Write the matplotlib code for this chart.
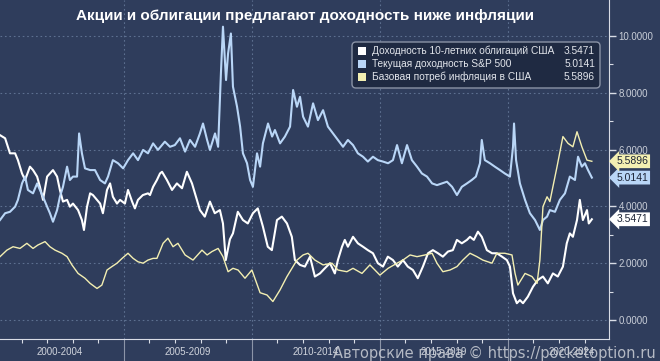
import matplotlib.pyplot as plt
import matplotlib.transforms as mtransforms
from matplotlib.patches import FancyBboxPatch, Rectangle

# Доходность 10-летних облигаций США
t10_years = [2000.16, 2000.36, 2000.55, 2000.75, 2000.86, 2001.02, 2001.14, 2001.33, 2001.45, 2001.61,
             2001.72, 2001.84, 2002.00, 2002.11, 2002.23, 2002.39, 2002.50, 2002.62, 2002.78, 2002.89,
             2003.01, 2003.21, 2003.36, 2003.44, 2003.56, 2003.68, 2003.79, 2003.95, 2004.07, 2004.18,
             2004.34, 2004.46, 2004.57, 2004.73, 2004.85, 2005.04, 2005.16, 2005.32, 2005.43, 2005.55,
             2005.74, 2005.94, 2006.02, 2006.14, 2006.29, 2006.41, 2006.49, 2006.68, 2006.88, 2007.07,
             2007.27, 2007.46, 2007.66, 2007.85, 2007.97, 2008.16, 2008.36, 2008.55, 2008.75, 2008.87,
             2008.98, 2009.14, 2009.26, 2009.45, 2009.65, 2009.84, 2010.04, 2010.23, 2010.43, 2010.62,
             2010.78, 2010.98, 2011.17, 2011.37, 2011.56, 2011.68, 2011.88, 2012.07, 2012.27, 2012.46,
             2012.66, 2012.85, 2013.05, 2013.24, 2013.36, 2013.52, 2013.63, 2013.75, 2013.95, 2014.14,
             2014.34, 2014.53, 2014.73, 2014.92, 2015.12, 2015.31, 2015.51, 2015.70, 2015.90, 2016.09,
             2016.29, 2016.48, 2016.68, 2016.88, 2017.07, 2017.27, 2017.46, 2017.66, 2017.85, 2018.01,
             2018.20, 2018.40, 2018.52, 2018.67, 2018.83, 2018.98, 2019.18, 2019.38, 2019.57, 2019.77,
             2019.96, 2020.08, 2020.20, 2020.35, 2020.47, 2020.59, 2020.78, 2020.98, 2021.17, 2021.37,
             2021.56, 2021.76, 2021.95, 2022.15, 2022.30, 2022.42, 2022.54, 2022.70, 2022.81, 2022.93,
             2023.09, 2023.16, 2023.28]
t10_vals = [6.51, 6.40, 5.87, 5.87, 5.63, 5.16, 4.93, 5.40, 5.28, 5.05,
            4.69, 4.23, 5.05, 5.16, 5.28, 5.05, 4.58, 4.17, 4.23, 3.99,
            4.10, 3.87, 3.52, 3.17, 3.99, 4.46, 4.40, 4.23, 4.10, 3.76,
            4.58, 4.81, 4.34, 4.10, 4.23, 4.10, 4.58, 4.17, 3.93, 4.23,
            4.40, 4.46, 4.40, 4.69, 4.93, 5.16, 5.22, 4.93, 4.58, 4.81,
            4.64, 5.22, 4.81, 4.23, 3.87, 3.64, 4.17, 3.76, 3.87, 3.40,
            2.11, 2.84, 3.05, 3.81, 3.52, 3.40, 3.76, 3.93, 3.29, 2.58,
            2.46, 3.52, 3.64, 3.40, 2.93, 2.11, 1.94, 1.88, 2.23, 1.53,
            1.64, 1.82, 2.00, 1.64, 2.11, 2.58, 2.82, 2.58, 2.93, 2.70,
            2.58, 2.46, 2.35, 2.00, 1.88, 2.23, 2.11, 1.88, 2.11, 1.88,
            1.76, 1.47, 1.88, 2.35, 2.46, 2.35, 2.23, 2.41, 2.46, 2.82,
            2.70, 2.82, 2.93, 2.82, 3.11, 2.93, 2.46, 2.35, 2.35, 2.23,
            2.11, 1.88, 0.94, 0.59, 0.70, 0.59, 0.82, 1.17, 1.41, 1.53,
            1.29, 1.64, 1.53, 1.88, 2.70, 3.05, 2.93, 3.52, 4.23, 3.52,
            3.87, 3.40, 3.5471]

# Текущая доходность S&P 500
spx_years = [2000.16, 2000.36, 2000.55, 2000.75, 2000.86, 2001.02, 2001.14, 2001.25, 2001.45, 2001.61,
             2001.72, 2001.84, 2002.00, 2002.11, 2002.23, 2002.39, 2002.50, 2002.62, 2002.78, 2002.89,
             2003.01, 2003.17, 2003.25, 2003.36, 2003.48, 2003.68, 2003.87, 2004.07, 2004.26, 2004.38,
             2004.57, 2004.77, 2004.97, 2005.16, 2005.36, 2005.55, 2005.75, 2005.94, 2006.14, 2006.33,
             2006.60, 2006.80, 2006.99, 2007.19, 2007.39, 2007.58, 2007.78, 2007.97, 2008.09, 2008.25,
             2008.36, 2008.56, 2008.68, 2008.79, 2008.87, 2008.99, 2009.07, 2009.18, 2009.26, 2009.42,
             2009.54, 2009.65, 2009.81, 2009.93, 2010.04, 2010.20, 2010.32, 2010.43, 2010.63, 2010.79,
             2010.90, 2011.10, 2011.29, 2011.49, 2011.61, 2011.76, 2011.88, 2012.00, 2012.19, 2012.39,
             2012.58, 2012.78, 2012.97, 2013.17, 2013.36, 2013.56, 2013.75, 2013.95, 2014.14, 2014.34,
             2014.53, 2014.73, 2014.92, 2015.12, 2015.32, 2015.51, 2015.67, 2015.86, 2016.06, 2016.25,
             2016.45, 2016.64, 2016.84, 2017.04, 2017.23, 2017.43, 2017.62, 2017.82, 2018.01, 2018.20,
             2018.40, 2018.59, 2018.75, 2018.91, 2018.98, 2019.10, 2019.30, 2019.49, 2019.69, 2019.88,
             2020.08, 2020.20, 2020.24, 2020.32, 2020.47, 2020.67, 2020.86, 2021.06, 2021.25, 2021.37,
             2021.53, 2021.64, 2021.84, 2022.03, 2022.23, 2022.42, 2022.62, 2022.74, 2022.89, 2023.01,
             2023.13, 2023.28]
spx_vals = [3.52, 3.76, 3.81, 3.99, 4.23, 4.81, 5.05, 4.58, 4.46, 4.81,
            4.58, 4.34, 3.99, 3.76, 3.46, 3.87, 4.34, 4.69, 5.40, 4.93,
            5.05, 5.05, 6.57, 5.87, 5.34, 5.28, 5.28, 4.93, 4.81, 5.05,
            5.63, 5.52, 5.34, 5.63, 5.87, 5.63, 5.99, 5.87, 6.22, 5.99,
            6.28, 6.10, 6.16, 6.40, 5.93, 6.34, 6.10, 6.57, 6.92, 6.34,
            5.99, 6.57, 6.10, 8.69, 10.33, 8.45, 9.39, 10.09, 8.22, 7.51,
            6.81, 5.87, 5.52, 4.93, 4.69, 5.87, 5.40, 6.22, 6.92, 6.46,
            6.69, 6.22, 6.46, 6.81, 8.10, 7.51, 7.86, 7.16, 6.81, 7.63,
            7.04, 7.39, 6.81, 6.57, 6.34, 6.10, 6.34, 6.16, 5.87, 5.75,
            5.58, 5.75, 5.63, 5.58, 5.52, 5.63, 6.16, 5.52, 6.16, 5.63,
            5.40, 5.16, 5.05, 4.81, 4.75, 4.81, 4.87, 4.69, 4.40, 4.69,
            4.81, 4.93, 5.05, 5.52, 6.34, 5.63, 5.52, 5.40, 5.28, 5.16,
            5.05, 6.10, 6.92, 5.63, 4.81, 4.23, 3.76, 3.52, 3.17, 3.52,
            3.64, 3.87, 3.81, 4.23, 4.46, 5.05, 4.93, 5.75, 5.40, 5.52,
            5.28, 5.0141]

# Базовая потреб инфляция в США
cpi_years = [2000.16, 2000.43, 2000.67, 2000.94, 2001.21, 2001.45, 2001.64, 2001.92, 2002.11, 2002.31,
             2002.58, 2002.78, 2002.97, 2003.21, 2003.48, 2003.68, 2003.95, 2004.14, 2004.34, 2004.53,
             2004.73, 2004.93, 2005.16, 2005.36, 2005.55, 2005.75, 2005.94, 2006.14, 2006.29, 2006.53,
             2006.72, 2006.92, 2007.11, 2007.39, 2007.70, 2008.05, 2008.25, 2008.44, 2008.68, 2008.87,
             2009.07, 2009.26, 2009.46, 2009.73, 2010.00, 2010.32, 2010.59, 2010.82, 2011.10, 2011.37,
             2011.76, 2012.00, 2012.19, 2012.46, 2012.78, 2013.13, 2013.36, 2013.71, 2013.95, 2014.30,
             2014.61, 2015.00, 2015.32, 2015.67, 2015.90, 2016.18, 2016.45, 2016.76, 2017.04, 2017.23,
             2017.46, 2017.74, 2018.01, 2018.24, 2018.52, 2018.79, 2019.02, 2019.38, 2019.57, 2019.88,
             2020.16, 2020.28, 2020.39, 2020.67, 2020.94, 2021.14, 2021.25, 2021.37, 2021.53, 2021.64,
             2021.92, 2022.15, 2022.35, 2022.54, 2022.70, 2022.89, 2023.09, 2023.28]
cpi_vals = [2.23, 2.46, 2.58, 2.52, 2.70, 2.52, 2.64, 2.76, 2.58, 2.46,
            2.35, 2.23, 1.94, 1.64, 1.47, 1.29, 1.11, 1.23, 1.76, 1.88,
            2.00, 2.17, 2.35, 2.17, 2.05, 2.00, 2.11, 2.17, 2.17, 2.70,
            2.88, 2.58, 2.70, 2.29, 2.11, 2.46, 2.29, 2.41, 2.52, 2.23,
            1.70, 1.82, 1.76, 1.47, 1.76, 0.96, 0.88, 0.65, 1.06, 1.53,
            2.11, 2.29, 2.35, 2.11, 1.94, 2.00, 1.76, 1.70, 1.82, 1.64,
            1.94, 1.58, 1.82, 2.00, 2.11, 2.29, 2.23, 2.29, 2.35, 2.00,
            1.70, 1.76, 1.88, 2.11, 2.35, 2.23, 2.11, 2.00, 2.35, 2.35,
            2.29, 1.64, 1.23, 1.64, 1.53, 1.29, 2.11, 3.99, 4.34, 4.17,
            5.40, 6.46, 6.22, 6.10, 6.63, 6.10, 5.63, 5.5896]

names = ['Доходность 10-летних облигаций США', 'Текущая доходность S&P 500',
         'Базовая потреб инфляция в США']
last_vals = [3.5471, 5.0141, 5.5896]
colors = ['#ffffff', '#b9d6f7', '#f3efb2']
period_labels = ['2000-2004', '2005-2009', '2010-2014', '2015-2019', '2020-2024']
period_starts = [2000, 2005, 2010, 2015, 2020]

bg = '#2f3d5c'
grid_c = '#5d7090'
axis_c = '#d9dde6'

fig = plt.figure(figsize=(6.6, 3.61), dpi=100, facecolor=bg)
ax = fig.add_axes([0, 22 / 361, 609 / 660, 339 / 361], facecolor=bg)

ax.plot(t10_years, t10_vals, color=colors[0], lw=1.5, zorder=3)
ax.plot(spx_years, spx_vals, color=colors[1], lw=1.5, zorder=3)
ax.plot(cpi_years, cpi_vals, color=colors[2], lw=1.0, zorder=4)

ax.set_xlim(2000.16, 2023.95)
ax.set_ylim(-0.67, 11.27)

for s in ['top', 'left']:
    ax.spines[s].set_visible(False)
ax.spines['right'].set_color(axis_c)
ax.spines['bottom'].set_color(axis_c)

# y axis on the right
ax.yaxis.tick_right()
ax.set_yticks([0, 2, 4, 6, 8, 10])
ax.set_yticks([1, 3, 5, 7, 9], minor=True)
ax.set_yticklabels([f'{v:.4f}' for v in [0, 2, 4, 6, 8, 10]])
ax.tick_params(axis='y', which='major', colors=axis_c, labelcolor='#c9ced8', length=5,
               width=1, pad=2, labelsize=7, labelfontfamily='Liberation Sans')
ax.tick_params(axis='y', which='minor', colors=axis_c, length=3, width=0.8)

# x axis: period separators and yearly ticks
ax.set_xticks(period_starts[1:])
ax.set_xticks(range(2001, 2024), minor=True)
ax.set_xticklabels([])
ax.tick_params(axis='x', which='major', colors='#8c95a8', length=16, width=0.8)
ax.tick_params(axis='x', which='minor', colors=axis_c, length=3, width=0.8)

trans = mtransforms.blended_transform_factory(ax.transData, ax.transAxes)
for start, lab in zip(period_starts, period_labels):
    ax.text(start + 2.5, -0.038, lab, transform=trans, ha='center', va='center',
            fontsize=7, color='#d0d4dc', family='Liberation Sans', clip_on=False)

ax.grid(True, which='major', color=grid_c, lw=0.8, linestyle=(0, (1.5, 2.5)))

# value tags on the right axis
ytrans = mtransforms.blended_transform_factory(ax.transAxes, ax.transData)
for v, c in zip(last_vals, colors):
    ax.text(1.012, v, f'{v:.4f}', transform=ytrans, ha='left', va='center', fontsize=7.5,
            color='#1c2436', family='Liberation Sans', clip_on=False, zorder=6,
            bbox=dict(boxstyle='larrow,pad=0.18', fc=c, ec='none'))

# legend
fig.patches.append(FancyBboxPatch((352, 361 - 88), 248, 46, boxstyle='round,pad=0,rounding_size=4',
                                  transform=None, fc='#1f2a42', ec='#8a93a6', lw=1, zorder=5))
for i, (n, v, c) in enumerate(zip(names, last_vals, colors)):
    yc = 361 - (51 + 13 * i)
    fig.patches.append(Rectangle((358, yc - 4), 8, 8, transform=None, fc=c, ec='none', zorder=6))
    fig.text(372 / 660, yc / 361, n, ha='left', va='center', fontsize=7.3, color='#e2e5eb',
             family='Liberation Sans', zorder=7)
    fig.text(595 / 660, yc / 361, f'{v:.4f}', ha='right', va='center', fontsize=7.3,
             color='#e2e5eb', family='Liberation Sans', zorder=7)

fig.text(305 / 660, 1 - 16 / 361, 'Акции и облигации предлагают доходность ниже инфляции',
         ha='center', va='center', fontsize=11, fontweight='bold', color='white',
         family='Liberation Sans')

fig.text(656 / 660, 8 / 361, 'Авторские права © https://pocketoption.ru', ha='right',
         va='center', fontsize=10.5, color='#c4c8d0', alpha=0.9)

fig.savefig('out.png', dpi=100, facecolor=bg)
